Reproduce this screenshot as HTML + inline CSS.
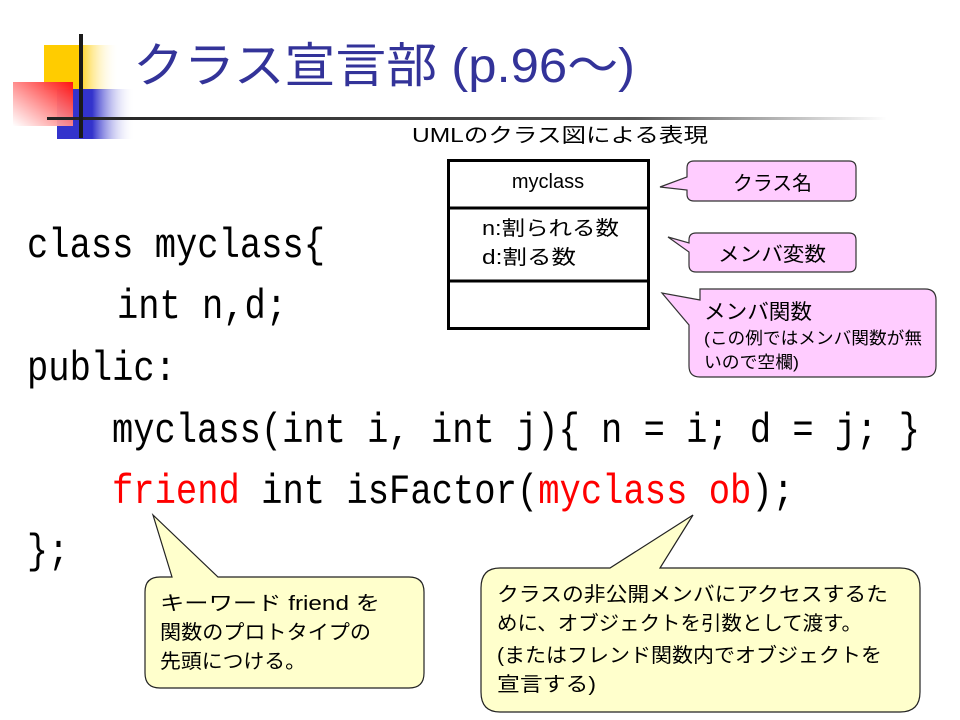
<!DOCTYPE html>
<html><head><meta charset="utf-8"><style>
html,body{margin:0;padding:0;background:#fff;}
svg{display:block;}
text{font-family:"Liberation Sans","Noto Sans CJK JP",sans-serif;}
.code{font-family:"Liberation Mono","Noto Sans CJK JP",monospace;font-size:42px;fill:#000;}
</style></head><body>
<svg width="960" height="720" viewBox="0 0 960 720" xmlns="http://www.w3.org/2000/svg">
<defs>
<linearGradient id="gy" x1="0" x2="1"><stop offset="0" stop-color="#ffcc00"/><stop offset="0.45" stop-color="#ffcc00"/><stop offset="1" stop-color="#fff" stop-opacity="0"/></linearGradient>
<linearGradient id="gb" x1="0" x2="1"><stop offset="0" stop-color="#3333cc"/><stop offset="0.45" stop-color="#3333cc"/><stop offset="1" stop-color="#fff" stop-opacity="0"/></linearGradient>
<linearGradient id="gr" x1="1" y1="0" x2="0" y2="1"><stop offset="0" stop-color="#ff1111"/><stop offset="1" stop-color="#fff" stop-opacity="0.9"/></linearGradient>
<linearGradient id="gl" x1="0" x2="1"><stop offset="0" stop-color="#222"/><stop offset="0.7" stop-color="#555"/><stop offset="1" stop-color="#fff"/></linearGradient>
</defs>
<rect x="44" y="45" width="75" height="45" fill="url(#gy)"/>
<rect x="57" y="89" width="78" height="50" fill="url(#gb)"/>
<rect x="13" y="82" width="60" height="44" fill="url(#gr)"/>
<rect x="47" y="117" width="840" height="3" fill="url(#gl)"/>
<rect x="79" y="34" width="4" height="104" fill="#1a1a1a"/>
<text x="133" y="82" font-size="48" fill="#333399" textLength="502" lengthAdjust="spacingAndGlyphs">クラス宣言部 (p.96～)</text>

<text x="412" y="142" font-size="20" fill="#000" textLength="296" lengthAdjust="spacingAndGlyphs">UMLのクラス図による表現</text>

<rect x="448.5" y="160.5" width="200" height="168" fill="#fff" stroke="#000" stroke-width="3"/>
<line x1="448" y1="208" x2="648" y2="208" stroke="#000" stroke-width="3"/>
<line x1="448" y1="281" x2="648" y2="281" stroke="#000" stroke-width="3"/>
<text x="548" y="188" font-size="20" text-anchor="middle">myclass</text>
<text x="482" y="235" font-size="20" textLength="137" lengthAdjust="spacingAndGlyphs">n:割られる数</text>
<text x="482" y="264" font-size="20" textLength="94" lengthAdjust="spacingAndGlyphs">d:割る数</text>

<g fill="#ffccff" stroke="#333" stroke-width="1.2">
<path d="M694,161 H849 Q856,161 856,168 V194 Q856,201 849,201 H694 Q687,201 687,194 V190 L660,187 L687,177 V168 Q687,161 694,161 Z"/>
<path d="M696,233 H849 Q856,233 856,240 V265 Q856,272 849,272 H696 Q689,272 689,265 V252 L668,237 L689,243 V240 Q689,233 696,233 Z"/>
<path d="M700,289 H925 Q936,289 936,300 V366 Q936,377 925,377 H700 Q689,377 689,366 V325 L662,293 L700,300 Z"/>
</g>
<text x="733" y="190" font-size="20" textLength="79" lengthAdjust="spacingAndGlyphs">クラス名</text>
<text x="718" y="261" font-size="20" textLength="108" lengthAdjust="spacingAndGlyphs">メンバ変数</text>
<text x="704" y="319" font-size="21" textLength="108" lengthAdjust="spacingAndGlyphs">メンバ関数</text>
<text x="704" y="344" font-size="17" textLength="218" lengthAdjust="spacingAndGlyphs">(この例ではメンバ関数が無</text>
<text x="704" y="368" font-size="17" textLength="95" lengthAdjust="spacingAndGlyphs">いので空欄)</text>

<text class="code" x="27" y="257" textLength="298" lengthAdjust="spacingAndGlyphs">class myclass{</text>
<text class="code" x="117" y="318" textLength="170" lengthAdjust="spacingAndGlyphs">int n,d;</text>
<text class="code" x="27" y="380" textLength="149" lengthAdjust="spacingAndGlyphs">public:</text>
<text class="code" x="112" y="442" textLength="808" lengthAdjust="spacingAndGlyphs">myclass(int i, int j){ n = i; d = j; }</text>
<text class="code" x="112" y="503" textLength="682" lengthAdjust="spacingAndGlyphs"><tspan fill="#ff0000">friend</tspan> int isFactor(<tspan fill="#ff0000">myclass ob</tspan>);</text>
<text class="code" x="27" y="563" textLength="42" lengthAdjust="spacingAndGlyphs">};</text>

<g fill="#ffffcc" stroke="#222" stroke-width="1.2">
<path d="M160,577 H172 L153,515 L218,577 H409 Q424,577 424,592 V673 Q424,688 409,688 H160 Q145,688 145,673 V592 Q145,577 160,577 Z"/>
<path d="M500,568 H610 L693,515 L660,568 H900 Q920,568 920,588 V692 Q920,712 900,712 H500 Q481,712 481,692 V588 Q481,568 500,568 Z"/>
</g>
<g font-size="20" fill="#000">
<text x="160" y="610" textLength="220" lengthAdjust="spacingAndGlyphs">キーワード  friend  を</text>
<text x="160" y="639" textLength="211" lengthAdjust="spacingAndGlyphs">関数のプロトタイプの</text>
<text x="160" y="668" textLength="146" lengthAdjust="spacingAndGlyphs">先頭につける。</text>
<text x="497" y="601" textLength="391" lengthAdjust="spacingAndGlyphs">クラスの非公開メンバにアクセスするた</text>
<text x="497" y="630" textLength="365" lengthAdjust="spacingAndGlyphs">めに、オブジェクトを引数として渡す。</text>
<text x="497" y="662" textLength="385" lengthAdjust="spacingAndGlyphs">(またはフレンド関数内でオブジェクトを</text>
<text x="497" y="691" textLength="99" lengthAdjust="spacingAndGlyphs">宣言する)</text>
</g>
</svg>
</body></html>
